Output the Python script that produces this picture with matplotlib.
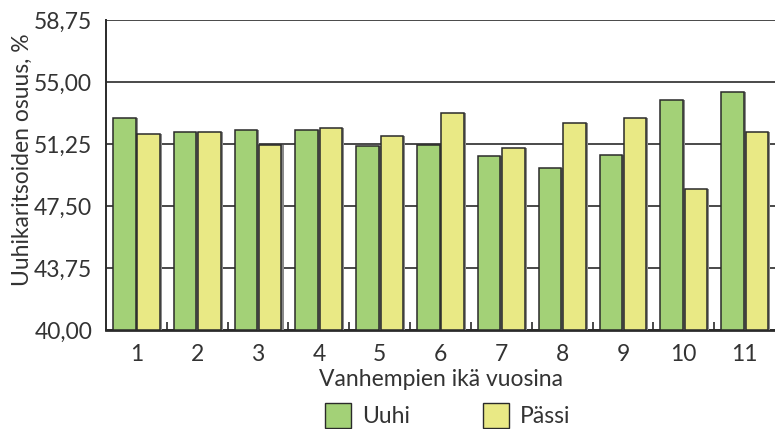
import numpy as np
import matplotlib.pyplot as plt
import matplotlib.patheffects as pe
from matplotlib.patches import Patch

plt.rcParams['font.family'] = ['Lato', 'DejaVu Sans']

# data
ages = np.arange(1, 12)
uuhi = [52.8, 52.0, 52.1, 52.1, 51.1, 51.2, 50.5, 49.8, 50.6, 53.9, 54.4]
passi = [51.85, 52.0, 51.2, 52.2, 51.75, 53.1, 51.0, 52.5, 52.85, 48.55, 52.0]
yticks = [40.00, 43.75, 47.50, 51.25, 55.00, 58.75]

green = '#a3d177'
yellow = '#e9e985'
edge = '#2a2a2a'
txt = '#333333'
fs = 16.5

fig = plt.figure(figsize=(7.75, 4.29), dpi=100)
ax = fig.add_axes([0.1368, 0.2308, 0.8632, 0.7226])

shadow = [pe.SimplePatchShadow(offset=(1.5, 0), shadow_rgbFace='#8a8a8a', alpha=1.0), pe.Normal()]
w = 0.37
b1 = ax.bar(ages - 0.2, np.array(uuhi) - 40, w, bottom=40, color=green,
            edgecolor=edge, linewidth=1.1, zorder=3)
b2 = ax.bar(ages + 0.2, np.array(passi) - 40, w, bottom=40, color=yellow,
            edgecolor=edge, linewidth=1.1, zorder=3)
for p in list(b1) + list(b2):
    p.set_path_effects(shadow)

ax.set_ylim(40, 58.75)
ax.set_xlim(0.5, 11.5)
ax.set_yticks(yticks)
ax.set_yticklabels([f'{v:.2f}'.replace('.', ',') for v in yticks], fontsize=fs, color=txt)
ax.set_xticks(ages)
ax.set_xticklabels([str(a) for a in ages], fontsize=fs, color=txt)
ax.set_xticks(np.arange(1.5, 11.5, 1), minor=True)
ax.tick_params(axis='x', which='major', length=0, pad=10)
ax.tick_params(axis='x', which='minor', direction='in', length=6, width=1.2, color=edge)
ax.tick_params(axis='y', length=0, pad=10)

ax.grid(axis='y', color='#2a2a2a', linewidth=1.2, zorder=1)
for s in ['top', 'right']:
    ax.spines[s].set_visible(False)
ax.spines['left'].set_linewidth(1.4)
ax.spines['left'].set_color(edge)
ax.spines['bottom'].set_linewidth(2)
ax.spines['bottom'].set_color(edge)

ax.set_xlabel('Vanhempien ikä vuosina', fontsize=fs, color=txt, labelpad=3)
ax.set_ylabel('Uuhikaritsoiden osuus, %', fontsize=fs, color=txt)
ax.yaxis.set_label_coords(-0.109, 0.55)

handles = [Patch(facecolor=green, edgecolor=edge, label='Uuhi'),
           Patch(facecolor=yellow, edgecolor=edge, label='Pässi')]
fig.legend(handles=handles, loc='lower center', bbox_to_anchor=(0.578, -0.045), ncol=2,
           frameon=False, fontsize=fs, handlelength=1.1, handleheight=1.3,
           handletextpad=0.5, columnspacing=3.2, labelcolor=txt)

fig.savefig('out.png', dpi=100)
